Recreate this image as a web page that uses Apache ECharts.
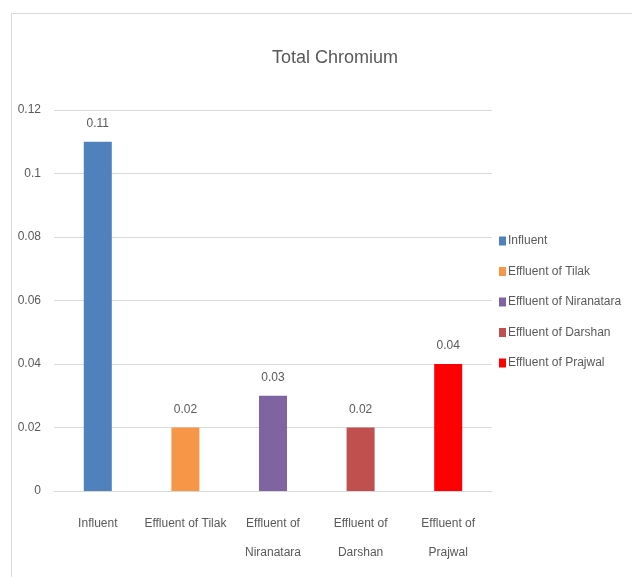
<!DOCTYPE html>
<html>
<head>
<meta charset="utf-8">
<script src="https://cdn.jsdelivr.net/npm/echarts@6/dist/echarts.min.js"></script>
<style>
    html, body { margin: 0; padding: 0; background: #fff; }
    #chart { width: 632px; height: 577px; }
</style>
</head>
<body>
<div id="chart"></div>
<script>
const categories = ['Influent', 'Effluent of Tilak', 'Effluent of Niranatara', 'Effluent of Darshan', 'Effluent of Prajwal']
const values = [0.11, 0.02, 0.03, 0.02, 0.04]
const colors = ['#4F81BD', '#F79646', '#8064A2', '#C0504D', '#FF0000']
const yTicks = [0, 0.02, 0.04, 0.06, 0.08, 0.1, 0.12]

const font = '"Liberation Sans", sans-serif'
const chart = echarts.init(document.getElementById('chart'))

// one series per category so the legend shows every bar
const seriesArr = categories.map((name, i) => ({
    name: name,
    type: 'bar',
    barWidth: 28,
    barGap: '-100%',
    itemStyle: { color: colors[i] },
    label: {
        show: true,
        position: 'top',
        distance: 12,
        color: '#595959',
        fontFamily: font,
        fontSize: 12
    },
    data: categories.map((c, j) => (j === i ? values[j] : null))
}))

chart.setOption({
    animation: false,
    graphic: [{
        type: 'rect',
        shape: { x: 11.5, y: 13.5, width: 700, height: 700 },
        style: { fill: 'none', stroke: '#d9d9d9', lineWidth: 1 }
    }],
    title: {
        text: 'Total Chromium',
        left: 330,
        textAlign: 'center',
        top: 44,
        textStyle: { fontFamily: font, fontSize: 18, fontWeight: 'normal', color: '#595959' }
    },
    legend: {
        orient: 'vertical',
        left: 494,
        top: 230,
        itemGap: 18.5,
        itemWidth: 7,
        itemHeight: 9,
        icon: 'rect',
        textStyle: { fontFamily: font, fontSize: 12, color: '#595959', padding: [0, 0, 0, -3] },
        data: categories
    },
    grid: { left: 54, right: 140, top: 110, bottom: 86 },
    xAxis: {
        type: 'category',
        data: categories,
        axisLine: { lineStyle: { color: '#d9d9d9' } },
        axisTick: { show: false },
        axisLabel: {
            interval: 0,
            margin: 18,
            lineHeight: 29,
            color: '#595959',
            fontFamily: font,
            fontSize: 12,
            formatter: v => (v.length > 18 ? v.replace('of ', 'of\n') : v)
        }
    },
    yAxis: {
        type: 'value',
        min: 0,
        max: 0.12,
        interval: 0.02,
        axisLine: { show: false },
        axisTick: { show: false },
        splitLine: { lineStyle: { color: '#d9d9d9' } },
        axisLabel: {
            margin: 13,
            color: '#595959',
            fontFamily: font,
            fontSize: 12,
            formatter: v => {
                const t = yTicks.find(x => Math.abs(x - v) < 1e-9)
                return String(t !== undefined ? t : v)
            }
        }
    },
    series: seriesArr
})
</script>
</body>
</html>
